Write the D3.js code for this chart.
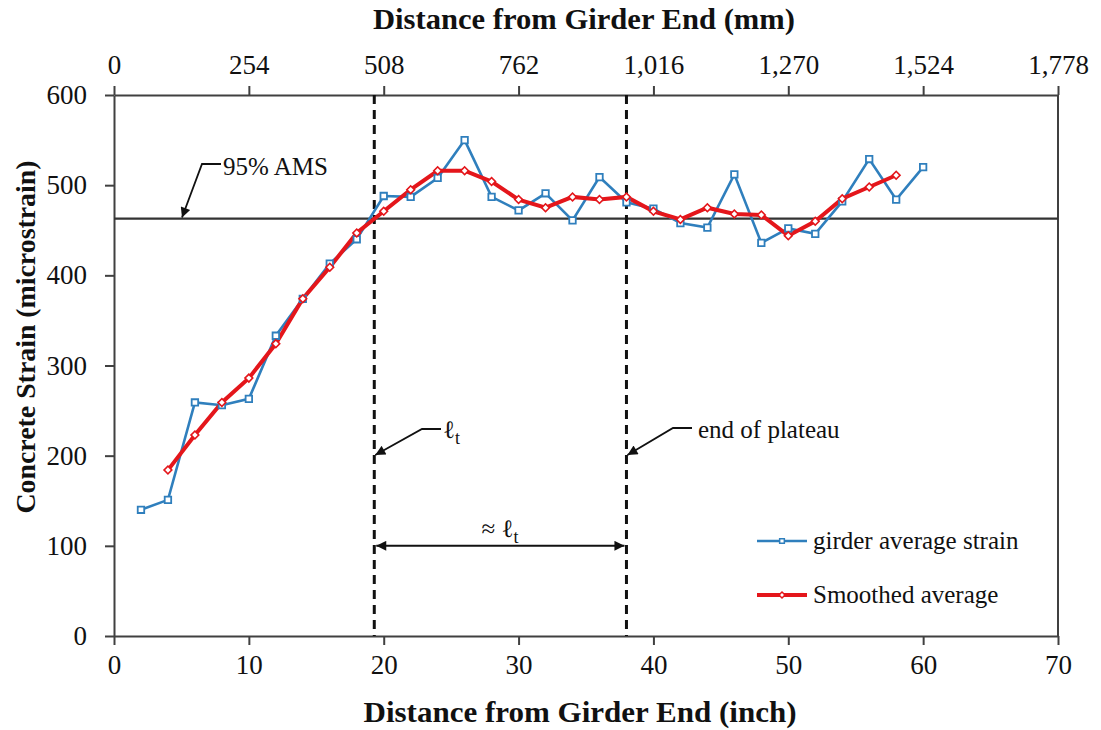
<!DOCTYPE html>
<html>
<head>
<meta charset="utf-8">
<script src="https://cdn.jsdelivr.net/npm/d3@7"></script>
</head>
<body style="margin:0; background:#fff">
<svg id="chart" width="1101" height="730"></svg>
<script>
// girder measurements (inch from end, microstrain)
const girderX = [2, 4, 6, 8, 10, 12, 14, 16, 18, 20, 22, 24, 26, 28, 30,
                 32, 34, 36, 38, 40, 42, 44, 46, 48, 50, 52, 54, 56, 58, 60];
const girderStrain = [140, 151, 259, 256, 263, 333, 374, 413, 440, 488, 487, 508, 550, 487, 472,
                      491, 461, 509, 481, 474, 458, 453, 512, 436, 452, 446, 482, 529, 484, 520];

const smoothX = [4, 6, 8, 10, 12, 14, 16, 18, 20, 22, 24, 26, 28, 30,
                 32, 34, 36, 38, 40, 42, 44, 46, 48, 50, 52, 54, 56, 58];
const smoothStrain = [184, 223, 259, 286, 324, 374, 409, 447, 471, 495, 516, 516, 504, 484,
                      475, 487, 484, 487, 471, 462, 475, 468, 467, 444, 460, 485, 498, 511];

const inchTicks = [0, 10, 20, 30, 40, 50, 60, 70];
const mmTicks = [0, 254, 508, 762, 1016, 1270, 1524, 1778];
const strainTicks = [0, 100, 200, 300, 400, 500, 600];

const ams95 = 463;        // 95% average maximum strain
const transfer = 19.3;    // l_t
const plateauEnd = 38.0;  // end of plateau
const dimStrain = 100;

const blue = "#2f7fbd", red = "#e4161b";
const serif = "'Liberation Serif'";

let svg = d3.select("svg#chart");
let x = d3.scaleLinear().domain([0, 70]).range([114, 1058]);
let xmm = d3.scaleLinear().domain([0, 1778]).range([114, 1058]);
let y = d3.scaleLinear().domain([0, 600]).range([636, 95]);

let defs = svg.append("defs");
defs.append("marker").attr("id", "head")
    .attr("viewBox", "0 0 10 10").attr("refX", 10).attr("refY", 5)
    .attr("markerWidth", 14).attr("markerHeight", 10).attr("markerUnits", "userSpaceOnUse")
    .attr("orient", "auto-start-reverse")
  .append("path").attr("d", "M0,0 L10,5 L0,10 Z").attr("fill", "#111");

function styleAxis(g) {
  g.attr("font-family", serif).attr("font-size", 27);
  g.selectAll("path, line").attr("stroke", "#404040").attr("stroke-width", 2);
  g.selectAll("text").attr("fill", "#111");
}

// axes
svg.append("g")
   .attr("transform", "translate(0," + y(0) + ")")
   .call(d3.axisBottom(x).tickValues(inchTicks).tickSize(9).tickSizeOuter(0).tickPadding(10))
   .call(styleAxis);
svg.append("g")
   .attr("transform", "translate(0," + y(600) + ")")
   .call(d3.axisTop(xmm).tickValues(mmTicks).tickSize(9).tickSizeOuter(0).tickPadding(12)
          .tickFormat(d3.format(",")))
   .call(styleAxis);
svg.append("g")
   .attr("transform", "translate(" + x(0) + ",0)")
   .call(d3.axisLeft(y).tickValues(strainTicks).tickSize(9).tickSizeOuter(0).tickPadding(18))
   .call(styleAxis);
svg.append("line")
   .attr("x1", x(70)).attr("x2", x(70)).attr("y1", y(0)).attr("y2", y(600))
   .attr("stroke", "#404040").attr("stroke-width", 2);

// titles
function title(sel, len) {
  sel.attr("font-family", serif).attr("font-weight", "bold").attr("font-size", 30)
     .attr("fill", "#111").attr("text-anchor", "middle")
     .attr("textLength", len).attr("lengthAdjust", "spacingAndGlyphs");
}
svg.append("text").attr("x", 584).attr("y", 29)
   .call(title, 422).text("Distance from Girder End (mm)");
svg.append("text").attr("x", 580).attr("y", 722)
   .call(title, 433).text("Distance from Girder End (inch)");
svg.append("text").attr("transform", "translate(35,337) rotate(-90)")
   .call(title, 353).attr("font-size", 28).text("Concrete Strain (microstrain)");

// reference lines
svg.append("line")
   .attr("x1", x(0)).attr("x2", x(70)).attr("y1", y(ams95)).attr("y2", y(ams95))
   .attr("stroke", "#333").attr("stroke-width", 2.2);
svg.selectAll("line.vdash").data([transfer, plateauEnd]).enter().append("line")
   .attr("class", "vdash")
   .attr("x1", function(d) { return x(d); }).attr("x2", function(d) { return x(d); })
   .attr("y1", y(600)).attr("y2", y(0))
   .attr("stroke", "#111").attr("stroke-width", 3).attr("stroke-dasharray", "9,6");

// series
let line = d3.line().x(function(d) { return x(d[0]); }).y(function(d) { return y(d[1]); });
let girder = d3.zip(girderX, girderStrain);
let smooth = d3.zip(smoothX, smoothStrain);

svg.append("path").datum(girder).attr("d", line)
   .attr("fill", "none").attr("stroke", blue).attr("stroke-width", 2.6);
svg.append("path").datum(smooth).attr("d", line)
   .attr("fill", "none").attr("stroke", red).attr("stroke-width", 4);

let square = d3.symbol().type(d3.symbolSquare).size(42);
let diamond = d3.symbol().type(d3.symbolSquare).size(30);

svg.append("g").selectAll("path").data(girder).enter().append("path")
   .attr("d", square)
   .attr("transform", function(d) { return "translate(" + x(d[0]) + "," + y(d[1]) + ")"; })
   .attr("fill", "#fff").attr("stroke", blue).attr("stroke-width", 1.8);
svg.append("g").selectAll("path").data(smooth).enter().append("path")
   .attr("d", diamond)
   .attr("transform", function(d) { return "translate(" + x(d[0]) + "," + y(d[1]) + ") rotate(45)"; })
   .attr("fill", "#fff").attr("stroke", red).attr("stroke-width", 1.6);

// leader: tip point, elbow, and end of the short horizontal stub
function leader(tipX, tipY, ex, ey, endX) {
  svg.append("path")
     .attr("d", "M" + endX + "," + ey + " L" + ex + "," + ey + " L" + tipX + "," + tipY)
     .attr("fill", "none").attr("stroke", "#111").attr("stroke-width", 1.8)
     .attr("marker-end", "url(#head)");
}
leader(182, y(ams95) - 1, 202, 164, 221);
leader(x(transfer) + 1, 455, 422, 429, 441);
leader(x(plateauEnd) + 1, 455, 673, 428, 692);

function note(sel) {
  sel.attr("font-family", serif).attr("font-size", 25).attr("fill", "#111");
}
svg.append("text").call(note).attr("x", 223).attr("y", 175).text("95% AMS");
svg.append("text").call(note).attr("x", 698).attr("y", 438).text("end of plateau");

let lt = svg.append("text").call(note).attr("x", 443).attr("y", 438);
lt.append("tspan").text("\u2113");
lt.append("tspan").attr("dy", 6).attr("font-size", 18).text("t");

svg.append("line")
   .attr("x1", x(transfer) + 2).attr("x2", x(plateauEnd) - 2)
   .attr("y1", y(dimStrain)).attr("y2", y(dimStrain))
   .attr("stroke", "#111").attr("stroke-width", 2)
   .attr("marker-start", "url(#head)").attr("marker-end", "url(#head)");
let approx = svg.append("text").call(note).attr("x", 500).attr("y", 537)
   .attr("text-anchor", "middle");
approx.append("tspan").text("\u2248 \u2113");
approx.append("tspan").attr("dy", 6).attr("font-size", 18).text("t");

// legend
let legendItems = [
  {name: "girder average strain", color: blue, size: 22, rot: 0, width: 2.6},
  {name: "Smoothed average", color: red, size: 18, rot: 45, width: 4}
];
let legend = svg.append("g").selectAll("g")
   .data(legendItems).enter().append("g")
   .attr("transform", function(d, i) { return "translate(757," + (541 + 54*i) + ")"; });
legend.append("line").attr("x1", 0).attr("x2", 50)
   .attr("stroke", function(d) { return d.color; })
   .attr("stroke-width", function(d) { return d.width; });
legend.append("path")
   .attr("transform", function(d) { return "translate(25,0) rotate(" + d.rot + ")"; })
   .attr("d", function(d) { return d3.symbol().type(d3.symbolSquare).size(d.size)(); })
   .attr("fill", "#fff").attr("stroke", function(d) { return d.color; }).attr("stroke-width", 1.5);
legend.append("text").call(note).attr("x", 56).attr("dy", "0.33em")
   .text(function(d) { return d.name; });
</script>
</body>
</html>
